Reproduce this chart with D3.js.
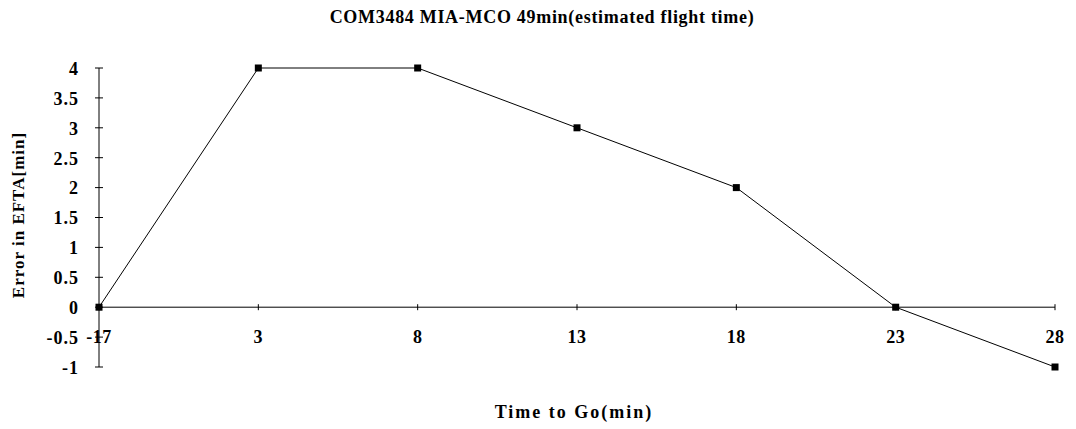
<!DOCTYPE html>
<html><head><meta charset="utf-8">
<script src="https://cdn.jsdelivr.net/npm/d3@7"></script>
<style>body{margin:0;background:#fff}svg{display:block}text{font-family:"Liberation Serif","Times New Roman",serif;font-weight:bold;fill:#000}</style>
</head><body>
<svg id="c" width="1076" height="429"></svg>
<script>
const categories = ["-17","3","8","13","18","23","28"];
const values = [0, 4, 4, 3, 2, 0, -1];
const yTicks = [-1,-0.5,0,0.5,1,1.5,2,2.5,3,3.5,4];
const titleText = "COM3484 MIA-MCO 49min(estimated flight time)";
const xTitle = "Time to Go(min)";
const yTitle = "Error in EFTA[min]";

const svg = d3.select("#c");
const x = d3.scalePoint().domain(categories).range([99,1055]);
const y = d3.scaleLinear().domain([-1,4]).range([367,68]);

// y axis
const ya = svg.append("g").attr("transform","translate(99,0)");
ya.append("line").attr("y1",y(4)).attr("y2",y(-1)).attr("stroke","#000");
ya.selectAll(".t").data(yTicks).join("line").attr("x1",-4).attr("x2",4)
  .attr("y1",d=>y(d)).attr("y2",d=>y(d)).attr("stroke","#000");
ya.selectAll("text").data(yTicks).join("text").attr("x",-20).attr("y",d=>y(d))
  .attr("dy","0.38em").attr("text-anchor","end").style("font-size","18px")
  .style("letter-spacing","1px").text(d=>d);

// x axis at y=0
const xa = svg.append("g").attr("transform",`translate(0,${y(0)})`);
xa.append("line").attr("x1",x(categories[0])).attr("x2",x(categories[categories.length-1])).attr("stroke","#000");
xa.selectAll(".t").data(categories).join("line").attr("x1",d=>x(d)).attr("x2",d=>x(d))
  .attr("y1",-3).attr("y2",3).attr("stroke","#000");
xa.selectAll("text").data(categories).join("text").attr("x",d=>x(d)).attr("y",36)
  .attr("text-anchor","middle").style("font-size","18px").style("letter-spacing","0.5px").text(d=>d);

// line
const data = categories.map((c,i)=>({c,v:values[i]}));
svg.append("path").datum(data).attr("fill","none").attr("stroke","#000").attr("stroke-width",1)
  .attr("d",d3.line().x(d=>x(d.c)).y(d=>y(d.v)));
svg.selectAll(".m").data(data).join("rect").attr("x",d=>x(d.c)-3.5).attr("y",d=>y(d.v)-3.5)
  .attr("width",7).attr("height",7).attr("fill","#000");

// titles
svg.append("text").attr("x",542).attr("y",23).attr("text-anchor","middle")
  .style("font-size","18px").style("letter-spacing","0.7px").text(titleText);
svg.append("text").attr("x",574).attr("y",418).attr("text-anchor","middle")
  .style("font-size","18px").style("letter-spacing","2px").text(xTitle);
svg.append("text").attr("transform","translate(24,215) rotate(-90)").attr("text-anchor","middle")
  .style("font-size","17px").style("letter-spacing","1px").text(yTitle);
</script>
</body></html>
